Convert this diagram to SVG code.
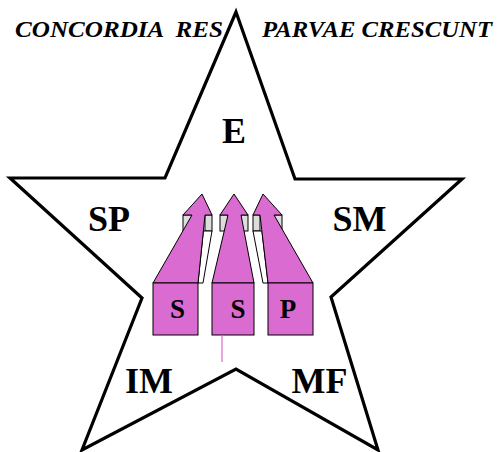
<svg xmlns="http://www.w3.org/2000/svg" width="499" height="452" viewBox="0 0 499 452">
<style>
.star{fill:#fff;stroke:#000;stroke-width:3.2;stroke-linejoin:miter}
.mag{fill:#DA6BD0;stroke:#000;stroke-width:1}
.gray{fill:#DDDDDD;stroke:#000;stroke-width:1}
.side{fill:#fff;stroke:#000;stroke-width:1}
.lbl{font-family:"Liberation Serif","Times New Roman",serif;font-weight:bold;fill:#000}
.ttl{font-family:"Liberation Serif","Times New Roman",serif;font-weight:bold;font-style:italic;font-size:23px;fill:#000}
</style>
<rect width="499" height="452" fill="#fff"/>
<g id="star">
<polygon class="star" points="236,12 295,179 462,179 331,297 378,450 236,369 82,450 142,298 10,178 165,178"/>
</g>
<g id="title">
<text class="ttl" x="15" y="37" xml:space="preserve" textLength="208" lengthAdjust="spacingAndGlyphs">CONCORDIA  RES</text>
<text class="ttl" x="262" y="37" xml:space="preserve" textLength="230" lengthAdjust="spacingAndGlyphs">PARVAE CRESCUNT</text>
</g>
<g id="arrow1">
<rect class="gray" x="183" y="215" width="9" height="16"/>
<rect class="gray" x="205" y="215" width="7" height="16"/>
<polygon class="side" points="203.4,231 212,231 203,283 198,283"/>
<polygon class="mag" points="153,283 192,215 183,215 202,194 212,215 205,215 198,283"/>
<rect class="mag" x="153" y="283" width="45" height="52"/>
<text class="lbl" x="177.5" y="318" font-size="27" text-anchor="middle">S</text>
</g>
<g id="arrow2">
<rect class="gray" x="220" y="215" width="8" height="16"/>
<rect class="gray" x="241" y="215" width="7" height="16"/>
<polygon class="mag" points="212,283 228,215 220,215 234,194 248,215 241,215 254,283"/>
<rect class="mag" x="212" y="283" width="42" height="52"/>
<text class="lbl" x="238" y="318" font-size="27" text-anchor="middle">S</text>
</g>
<g id="arrow3">
<rect class="gray" x="253" y="215" width="7" height="16"/>
<rect class="gray" x="274" y="215" width="8" height="16"/>
<polygon class="side" points="253,231 261.9,231 268,283 263,283"/>
<polygon class="mag" points="268,283 260,215 253,215 263,194 282,215 274,215 313,283"/>
<rect class="mag" x="268" y="283" width="45" height="52"/>
<text class="lbl" x="288" y="318" font-size="27" text-anchor="middle">P</text>
</g>
<g id="connectors">
<line x1="222" y1="335" x2="222" y2="362" stroke="#DA6BD0" stroke-width="1.2"/>
</g>
<g id="labels">
<text class="lbl" x="234" y="143" font-size="36" text-anchor="middle">E</text>
<text class="lbl" x="109" y="231" font-size="36" text-anchor="middle">SP</text>
<text class="lbl" x="359.5" y="231" font-size="36" text-anchor="middle">SM</text>
<text class="lbl" x="149" y="393" font-size="36" text-anchor="middle">IM</text>
<text class="lbl" x="319.5" y="393" font-size="36" text-anchor="middle">MF</text>
</g>
</svg>
